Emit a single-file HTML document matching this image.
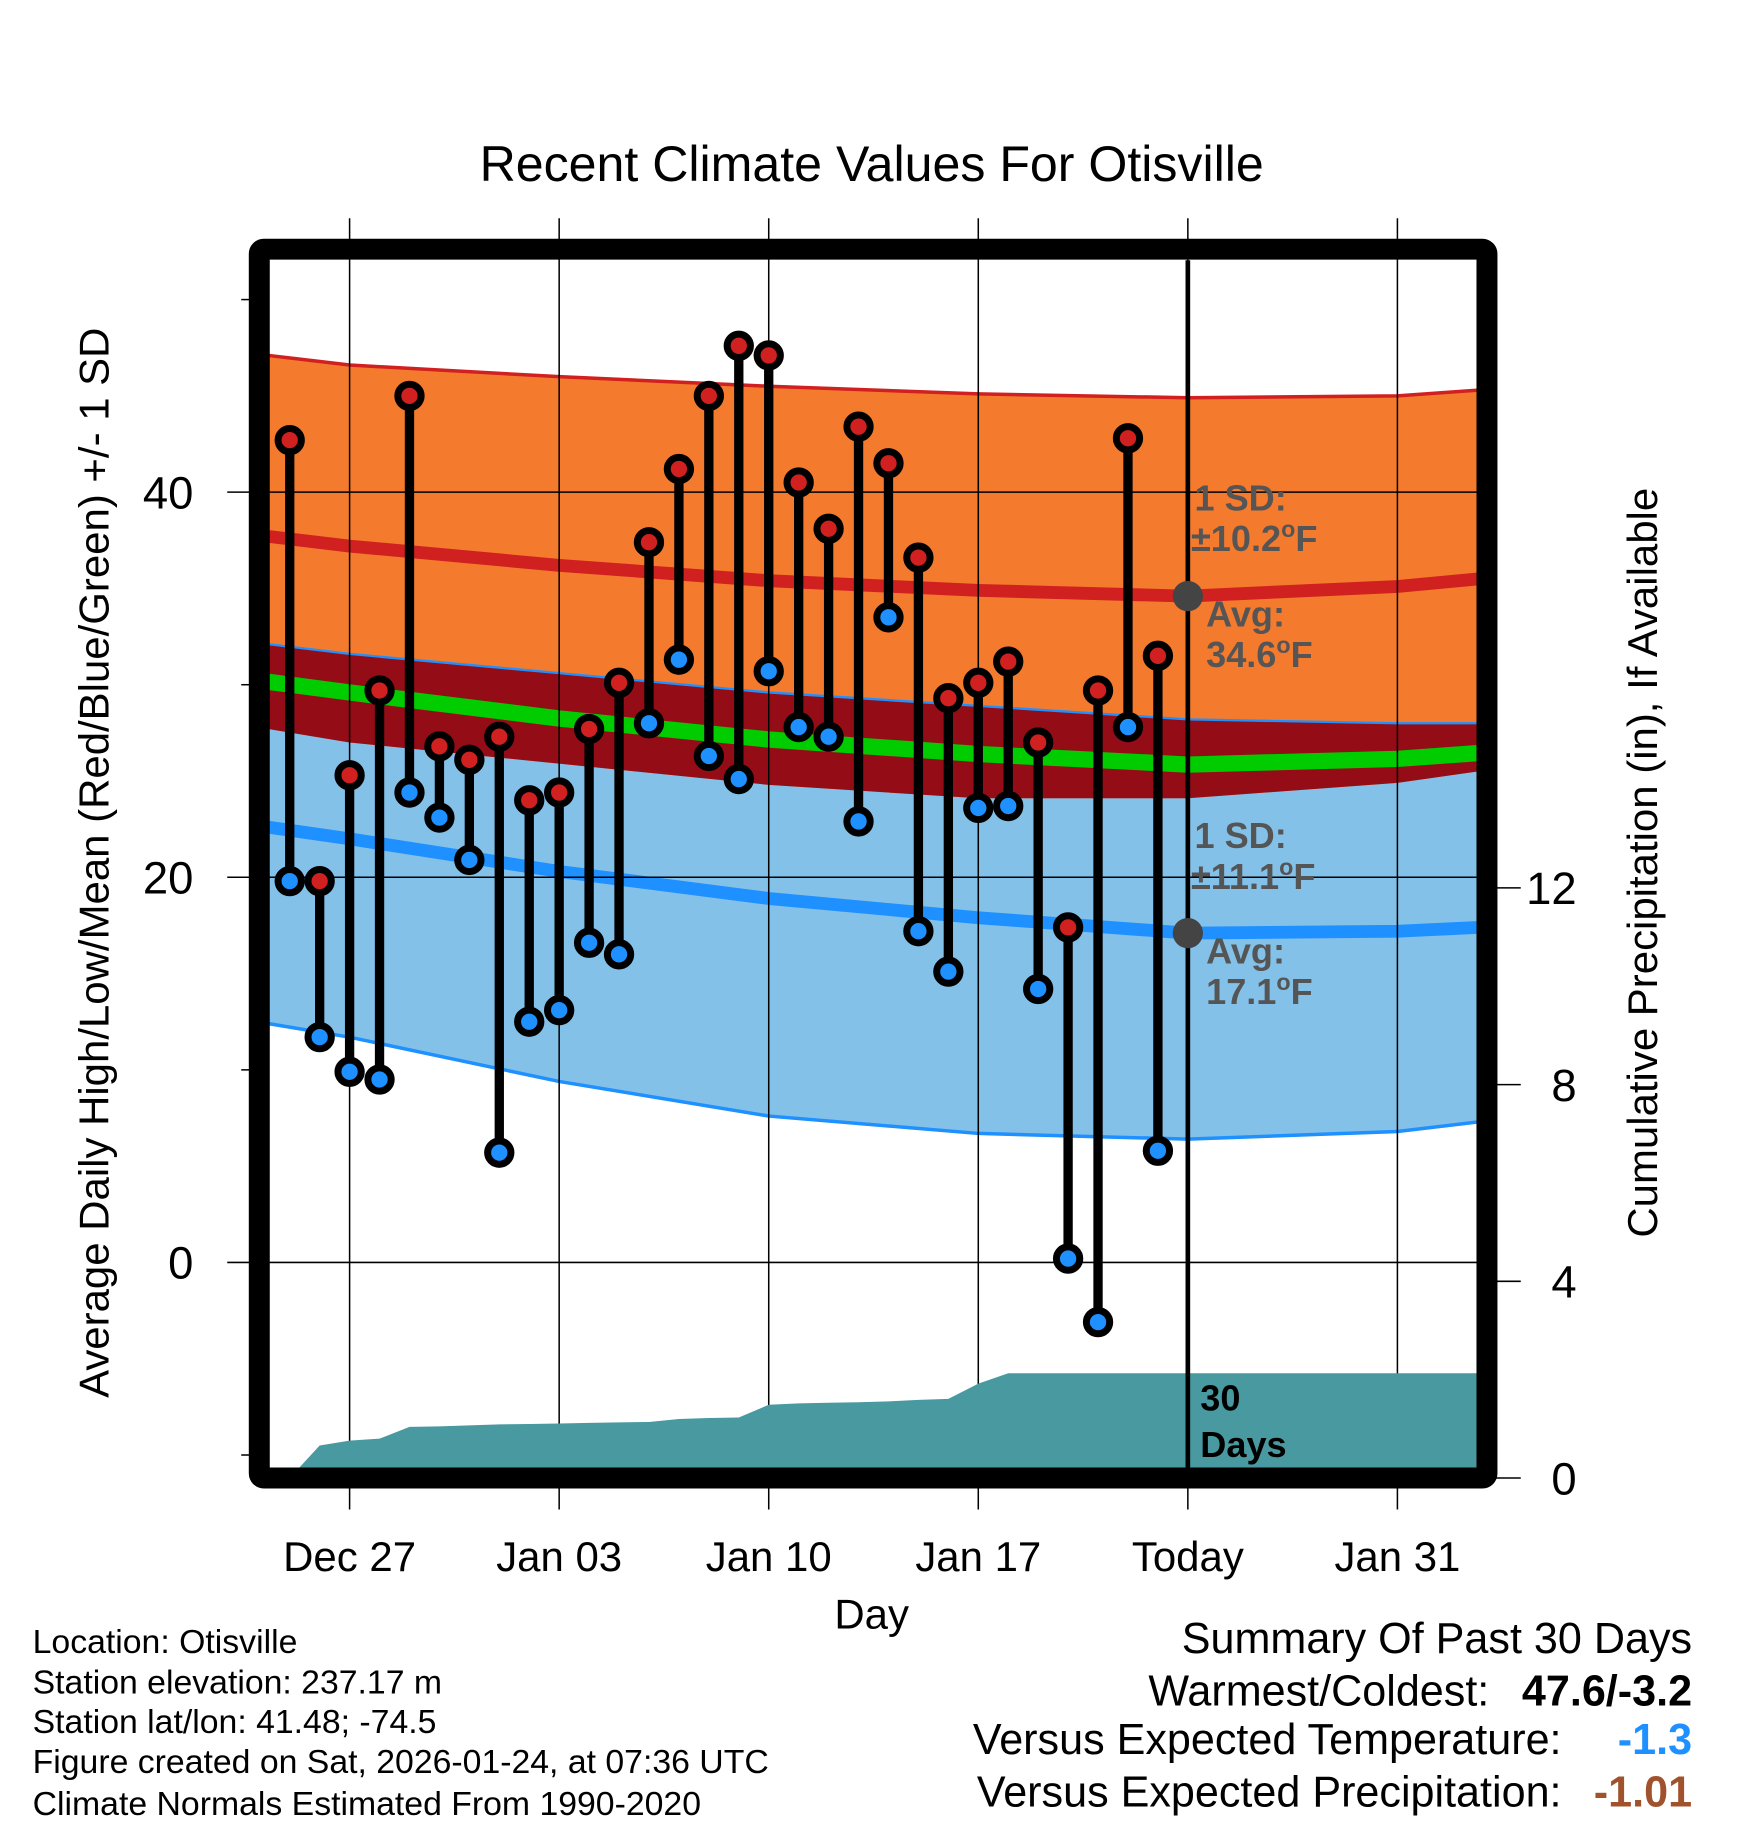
<!DOCTYPE html>
<html><head><meta charset="utf-8"><style>
html,body{margin:0;padding:0;background:#fff}
svg{display:block}
text{font-family:"Liberation Sans",sans-serif}
</style></head><body>
<svg id="chart" xmlns="http://www.w3.org/2000/svg" width="1748" height="1828" viewBox="0 0 1500 1568">
<rect width="1500" height="1568" fill="#fff"/>
<g id="bands"></g><g id="grid"></g><g id="precip"></g><g id="marks"></g>
<text x="748" y="155" text-anchor="middle" font-size="43">Recent Climate Values For Otisville</text>
<text transform="translate(93,740) rotate(-90)" text-anchor="middle" font-size="36">Average Daily High/Low/Mean (Red/Blue/Green) +/- 1 SD</text>
<text transform="translate(1422,740) rotate(-90)" text-anchor="middle" font-size="36">Cumulative Precipitation (in), If Available</text>
<text x="748" y="1397" text-anchor="middle" font-size="36">Day</text>
<g font-size="29">
<text x="28" y="1418">Location: Otisville</text>
<text x="28" y="1453">Station elevation: 237.17 m</text>
<text x="28" y="1487">Station lat/lon: 41.48; -74.5</text>
<text x="28" y="1521">Figure created on Sat, 2026-01-24, at 07:36 UTC</text>
<text x="28" y="1557">Climate Normals Estimated From 1990-2020</text>
</g>
<g font-size="37">
<text x="1452" y="1418" text-anchor="end">Summary Of Past 30 Days</text>
<text x="1278" y="1463" text-anchor="end">Warmest/Coldest:</text>
<text x="1452" y="1463" text-anchor="end" font-weight="bold">47.6/-3.2</text>
<text x="1340" y="1505" text-anchor="end">Versus Expected Temperature:</text>
<text x="1452" y="1505" text-anchor="end" font-weight="bold" fill="#1e90ff">-1.3</text>
<text x="1340" y="1550" text-anchor="end">Versus Expected Precipitation:</text>
<text x="1452" y="1550" text-anchor="end" font-weight="bold" fill="#a0522d">-1.01</text>
</g>
</svg>
<script>
const days = [-2,-1,0,1,2,3,4,5,6,7,8,9,10,11,12,13,14,15,16,17,18,19,20,21,22,23,24,25,26,27];
const highs = [42.7,19.8,25.3,29.7,45.0,26.8,26.1,27.3,24.0,24.4,27.7,30.1,37.4,41.2,45.0,47.6,47.1,40.5,38.1,43.4,41.5,36.6,29.3,30.1,31.2,27.0,17.4,29.7,42.8,31.5];
const lows = [19.8,11.7,9.9,9.5,24.4,23.1,20.9,5.7,12.5,13.1,16.6,16.0,28.0,31.3,26.3,25.1,30.7,27.8,27.3,22.9,33.5,17.2,15.1,23.6,23.7,14.2,0.2,-3.1,27.8,5.8];
const precip = [0,0.66,0.76,0.80,1.04,1.05,1.07,1.09,1.10,1.11,1.12,1.13,1.14,1.20,1.22,1.23,1.49,1.52,1.53,1.54,1.56,1.59,1.61,1.92,2.13,2.13,2.13,2.13,2.13,2.13];
const normDays = [-2.7,0,7,14,21,28,35,37.7];
const normHigh = [37.7,37.2,36.2,35.4,34.9,34.6,35.1,35.5];
const normHighUpper = [47.1,46.6,46.0,45.5,45.1,44.9,45.0,45.3];
const normHighLower = [27.7,27.0,25.9,24.8,24.1,24.1,24.9,25.5];
const normLow = [22.6,22.0,20.3,18.9,17.9,17.1,17.2,17.4];
const normLowUpper = [32.1,31.6,30.6,29.6,28.9,28.2,28.0,28.0];
const normLowLower = [12.4,11.7,9.4,7.6,6.7,6.4,6.8,7.3];
const sdHigh = 10.2;
const sdLow = 11.1;
const xTickDays = [0,7,14,21,28,35];
const xTickLabels = ["Dec 27","Jan 03","Jan 10","Jan 17","Today","Jan 31"];
const yTicks = [40,20,0];
const yMinor = [50,30,10,-10];
const pTicks = [0,4,8,12];
const todayDay = 28;

const X = d => 300 + 25.69*d;
const Y = v => 1083 - 16.525*v;
const P = p => 1268 - 42.2*p;
const L = 231, R = 1267, T = 223, B = 1259;
const NS = "http://www.w3.org/2000/svg";
function mk(parent, tag, attrs){const e=document.createElementNS(NS,tag);for(const k in attrs)e.setAttribute(k,attrs[k]);parent.appendChild(e);return e;}
const bands=document.getElementById('bands'), grid=document.getElementById('grid'), pg=document.getElementById('precip'), marks=document.getElementById('marks'), svg=document.getElementById('chart');

function curve(arr){return normDays.map((d,i)=>[X(d), Y(arr[i])]);}
function pathOf(pts){return pts.map((p,i)=>(i?'L':'M')+p[0].toFixed(1)+','+p[1].toFixed(1)).join(' ');}
function band(a,b,fill,name){const pts=a.concat(b.slice().reverse());const e=mk(bands,'path',{d:pathOf(pts)+'Z',fill:fill});

}
function line(pts,color,w,name){const e=mk(bands,'path',{d:pathOf(pts),fill:'none',stroke:color,'stroke-width':w});

}
const clip=mk(svg,'clipPath',{id:'pc'});mk(clip,'rect',{x:L,y:T,width:R-L,height:B-T});
bands.setAttribute('clip-path','url(#pc)');
band(curve(normLowLower),curve(normLowUpper),'#83c1e8','low-sd-band');
band(curve(normHighLower),curve(normHighUpper),'#f47a2e','high-sd-band');
band(curve(normLowUpper),curve(normHighLower),'#940c16','overlap-band');
line(curve(normHighUpper),'#d02020',3,'high-upper-sd-line');
line(curve(normLowUpper),'#1e90ff',2,'low-upper-sd-line');
line(curve(normLowLower),'#1e90ff',3,'low-lower-sd-line');
const meanArr=normHigh.map((h,i)=>(h+normLow[i])/2);
line(curve(meanArr),'#00cc00',14,'mean-normal-line');
line(curve(normHigh),'#d02020',11,'high-normal-line');
line(curve(normLow),'#1e90ff',11,'low-normal-line');

// precip
let pts=days.map((d,i)=>[X(d),P(precip[i])]);
pts.push([R+5,P(precip[precip.length-1])]);
const pa=pathOf(pts)+' L'+(R+5)+','+P(0)+' L'+X(days[0])+','+P(0)+'Z';
const pe=mk(pg,'path',{d:pa,fill:'#4899a0'});


pg.setAttribute('clip-path','url(#pc)');

// grid
xTickDays.forEach((d,i)=>{
 const g=mk(grid,'line',{x1:X(d),x2:X(d),y1:187,y2:1295,stroke:'#000','stroke-width':1.3});
 
 
 const t=mk(svg,'text',{x:X(d),y:1348,'text-anchor':'middle','font-size':36});t.textContent=xTickLabels[i];
 
 
});
yTicks.forEach(v=>{
 const g=mk(grid,'line',{x1:195,x2:R,y1:Y(v),y2:Y(v),stroke:'#000','stroke-width':1.3});
 
 
 const t=mk(svg,'text',{x:166,y:Y(v)+14,'text-anchor':'end','font-size':39});t.textContent=v;
 
 
});
yMinor.forEach(v=>{
 const g=mk(grid,'line',{x1:207,x2:215,y1:Y(v),y2:Y(v),stroke:'#000','stroke-width':1.3});
 
 
});
pTicks.forEach(p=>{
 const g=mk(grid,'line',{x1:1283,x2:1305,y1:P(p),y2:P(p),stroke:'#000','stroke-width':1.3});
 
 
 const t=mk(svg,'text',{x:1353,y:P(p)+14,'text-anchor':'end','font-size':39});t.textContent=p;
 
 
});

// today line
const tl=mk(marks,'line',{x1:X(todayDay),x2:X(todayDay),y1:T,y2:B,stroke:'#000','stroke-width':4});



// stems
days.forEach((d,i)=>{
 const s=mk(marks,'line',{x1:X(d),x2:X(d),y1:Y(highs[i]),y2:Y(lows[i]),stroke:'#000','stroke-width':8});
 
 
});
days.forEach((d,i)=>{
 const h=mk(marks,'circle',{cx:X(d),cy:Y(highs[i]),r:10,fill:'#d02020',stroke:'#000','stroke-width':6});
 
 
 const l=mk(marks,'circle',{cx:X(d),cy:Y(lows[i]),r:10,fill:'#1e90ff',stroke:'#000','stroke-width':6});
 
 
});

// today normal dots and labels
const todayHigh=normHigh[5], todayLow=normLow[5];
[[todayHigh,'today-high-normal-dot'],[todayLow,'today-low-normal-dot']].forEach(o=>{
 const c=mk(marks,'circle',{cx:X(todayDay),cy:Y(o[0]),r:13,fill:'#444'});
 
 
});
function lab(x,y,html,name,fill){const t=mk(marks,'text',{x:x,y:y,'font-size':31,'font-weight':'bold',fill:fill||'#555'});t.innerHTML=html;
 
 }
const deg='<tspan font-size="20" dy="-12">o</tspan><tspan dy="12">F</tspan>';
lab(1025,Y(todayHigh+sdHigh)+95,'1 SD:','high-sd-label');
lab(1022,Y(todayHigh+sdHigh)+130,'±'+sdHigh.toFixed(1)+deg,'high-sd-value');
lab(1035,Y(todayHigh)+26,'Avg:','high-avg-label');
lab(1035,Y(todayHigh)+61,todayHigh.toFixed(1)+deg,'high-avg-value');
lab(1025,Y(todayLow)-73,'1 SD:','low-sd-label');
lab(1022,Y(todayLow)-38,'±'+sdLow.toFixed(1)+deg,'low-sd-value');
lab(1035,Y(todayLow)+26,'Avg:','low-avg-label');
lab(1035,Y(todayLow)+61,todayLow.toFixed(1)+deg,'low-avg-value');
lab(1030,1210,'30','precip-days-label','#000');
lab(1030,1250,'Days','precip-days-label-2','#000');

// frame
const fr=mk(svg,'rect',{x:222.5,y:213.5,width:1053.5,height:1054.5,fill:'none',stroke:'#000','stroke-width':18,rx:4});


</script>
</body></html>
